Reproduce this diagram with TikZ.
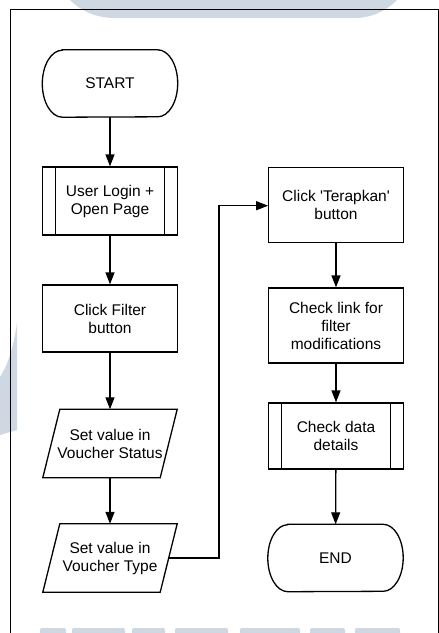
\documentclass[tikz,border=0pt]{standalone}
\usepackage{fontspec}
\setmainfont{Liberation Sans}
\usetikzlibrary{arrows.meta,calc}
\definecolor{wm}{HTML}{CED8E3}

% outline of a start/end terminal with elliptical ends
\newcommand{\drawterminal}[1]{%
  \draw[flowline] ([xshift=20pt]#1.north west) -- ([xshift=-20pt]#1.north east)
    arc[start angle=90,end angle=-90,x radius=20pt,y radius=33.5pt]
    -- ([xshift=20pt]#1.south west)
    arc[start angle=270,end angle=90,x radius=20pt,y radius=33.5pt] -- cycle;}
% predefined-process bars
\newcommand{\drawbars}[1]{%
  \draw[flowline] ([xshift=13.5pt]#1.north west) -- ([xshift=13.5pt]#1.south west);
  \draw[flowline] ([xshift=-13.5pt]#1.north east) -- ([xshift=-13.5pt]#1.south east);}
% parallelogram for input steps
\newcommand{\drawslant}[1]{%
  \draw[flowline] ([xshift=17pt]#1.north west) -- (#1.north east)
    -- ([xshift=-17pt]#1.south east) -- (#1.south west) -- cycle;}

\begin{document}
\begin{tikzpicture}[x=1pt,y=-1pt,
  flowline/.style={line width=1.3pt, line join=miter},
  txt/.style={font=\fontsize{15.5}{18}\selectfont, align=center, inner sep=0pt},
  term/.style={txt, minimum width=135pt, minimum height=67pt},
  proc/.style={txt, draw, flowline, minimum width=134.5pt},
  io/.style={txt, minimum width=134pt, minimum height=68pt},
  arr/.style={flowline, -{Triangle[length=12pt,width=9pt]}}]
\useasboundingbox (0,0) rectangle (439,633);
\fill[white] (0,0) rectangle (439,633);

% faint background marks
\fill[wm] (70,0) -- (397,0) .. controls (385,12) and (370,18) .. (355,18)
  -- (115,18) .. controls (95,18) and (80,10) .. (70,0) -- cycle;
\fill[wm] (0,377) .. controls (8,365) and (14,345) .. (17,323)
  -- (17,430) -- (0,435) -- cycle;
\foreach \a/\b in {40/66,72/125,132/165,175/228,240/300,310/345,355/400}
  \fill[wm, rounded corners=2pt] (\a,628) rectangle (\b,640);

% outer frame
\draw[line width=0.9pt] (10,640) -- (10,9.5) -- (438,9.5) -- (438,640);

% left column
\node[term] (start) at (110,83.5) {START};
\drawterminal{start}
\node[proc, minimum height=68pt] (login) at (110,201) {User Login +\\Open Page};
\drawbars{login}
\node[proc, minimum height=67pt] (filter) at (110,318.5) {Click Filter\\button};
\node[io] (status) at (110,443.5) {Set value in\\Voucher Status};
\drawslant{status}
\node[io] (vtype) at (110,558) {Set value in\\Voucher Type};
\drawslant{vtype}

% right column
\node[proc, minimum height=75pt] (apply) at (336,204.8) {Click \textquotesingle Terapkan\textquotesingle\\button};
\node[proc, minimum height=75pt] (link) at (336,325.5) {Check link for\\filter\\modifications};
\node[proc, minimum height=66pt] (detail) at (336,436) {Check data\\details};
\drawbars{detail}
\node[term] (finish) at (335.5,558) {END};
\drawterminal{finish}

% connectors
\coordinate (vtypeout) at ([xshift=-8.5pt]vtype.east);
\coordinate (elbow) at (219,205.7);
\draw[arr] (start) -- (login);
\draw[arr] (login) -- (filter);
\draw[arr] (filter) -- (status);
\draw[arr] (status) -- (vtype);
\draw[arr] (vtypeout) -| (elbow) -- (apply.west |- elbow);
\draw[arr] (apply) -- (link);
\draw[arr] (link) -- (detail);
\draw[arr] (detail) -- (finish);
\end{tikzpicture}
\end{document}
